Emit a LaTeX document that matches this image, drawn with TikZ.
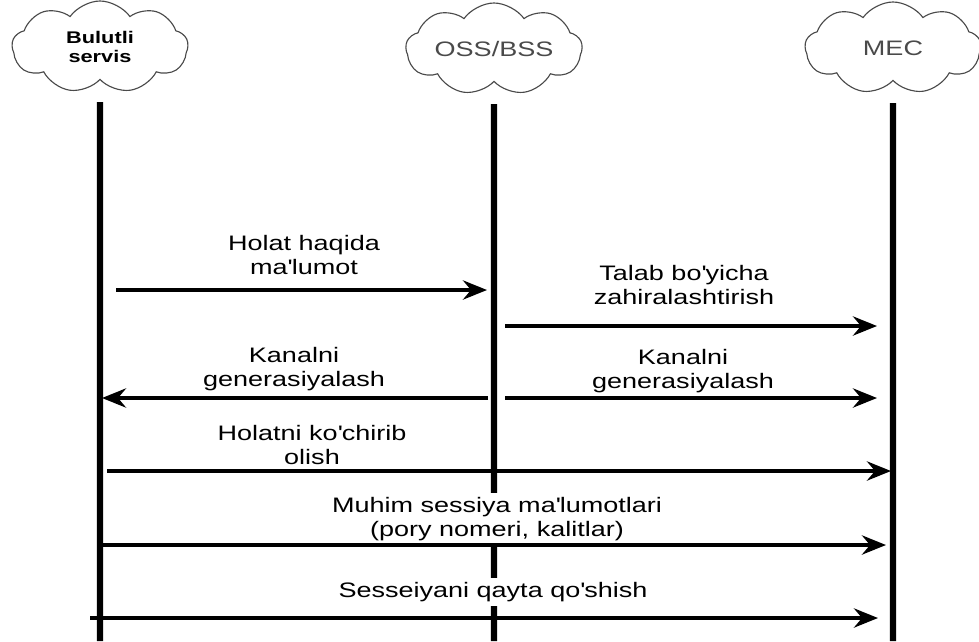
\documentclass[tikz,border=0pt]{standalone}
\usepackage{fontspec}
\setmainfont{Liberation Sans}[FakeStretch=1.29]
\usepackage{tikz}
\usetikzlibrary{shapes.symbols, arrows.meta, positioning}
\definecolor{cloudgray}{HTML}{4A4A4A}
\tikzset{
	cloudbox/.style={
		draw=cloudgray,
		cloud, cloud puffs=9, cloud puff arc=110, cloud ignores aspect,
		line width=0.8pt,
		fill=white,
		minimum width=4.4cm,
		minimum height=2.3cm,
		align=center,
		text=cloudgray,
		font=\fontsize{14.9}{17}\selectfont
	},
	lifeline/.style={
		line width=4.4pt,
		shorten <=0.55cm
	},
	msg/.style={
		-{Stealth[length=0.6cm, width=0.48cm, inset=0.2cm]},
		line width=2.6pt
	},
	msglabel/.style={
		anchor=north,
		fill=white,
		align=center,
		inner xsep=4pt, inner ysep=3pt,
		font=\fontsize{14.9}{17}\selectfont
	}
}
\newcommand{\ap}{\textquotesingle}

\begin{document}
\begin{tikzpicture}[x=0.025cm, y=-0.025cm]
	\useasboundingbox (0,0) rectangle (979,641);
	
	% Ishtirokchilar
	\node[cloudbox, text=black, font=\bfseries\fontsize{12}{13.5}\selectfont] (BS) at (100,47) {Bulutli\\servis};
	\node[cloudbox] (OSS) at (494,49) {OSS/BSS};
	\node[cloudbox] (MEC) at (893,48) {MEC};
	
	% Hayot chiziqlari
	\coordinate (bottom) at (0,641);
	\draw[lifeline] (BS) -- (BS |- bottom);
	\draw[lifeline] (OSS) -- (OSS |- bottom);
	\draw[lifeline] (MEC) -- (MEC |- bottom);
	
	% Xabarlar matni
	\node[msglabel] (t1) at (304,231) {Holat haqida\\ma\ap lumot};
	\node[msglabel] (t2) at (684,261) {Talab bo\ap yicha\\zahiralashtirish};
	\node[msglabel] (t3) at (294,343) {Kanalni\\generasiyalash};
	\node[msglabel] (t4) at (683,345) {Kanalni\\generasiyalash};
	\node[msglabel] (t5) at (312,421) {Holatni ko\ap chirib\\olish};
	\node[msglabel] (t6) at (497,493) {Muhim sessiya ma\ap lumotlari\\(pory nomeri, kalitlar)};
	\node[msglabel] (t7) at (493,578) {Sesseiyani qayta qo\ap shish};
	
	% Xabarlar
	\coordinate (m1s) at (116,290); \coordinate (m1e) at (487,290);
	\coordinate (m2s) at (505,326); \coordinate (m2e) at (877,326);
	\coordinate (m3s) at (488,398); \coordinate (m3e) at (102,398);
	\coordinate (m4s) at (505,398); \coordinate (m4e) at (877,398);
	\coordinate (m5s) at (107,471); \coordinate (m5e) at (891,471);
	\coordinate (m6s) at (100,545); \coordinate (m6e) at (886,545);
	\coordinate (m7s) at (90,618);  \coordinate (m7e) at (878,618);
	
	\draw[msg] (m1s) -- (m1e);
	\draw[msg] (m2s) -- (m2e);
	\draw[msg] (m3s) -- (m3e);
	\draw[msg] (m4s) -- (m4e);
	\draw[msg] (m5s) -- (m5e);
	\draw[msg] (m6s) -- (m6e);
	\draw[msg] (m7s) -- (m7e);
	
\end{tikzpicture}
\end{document}
